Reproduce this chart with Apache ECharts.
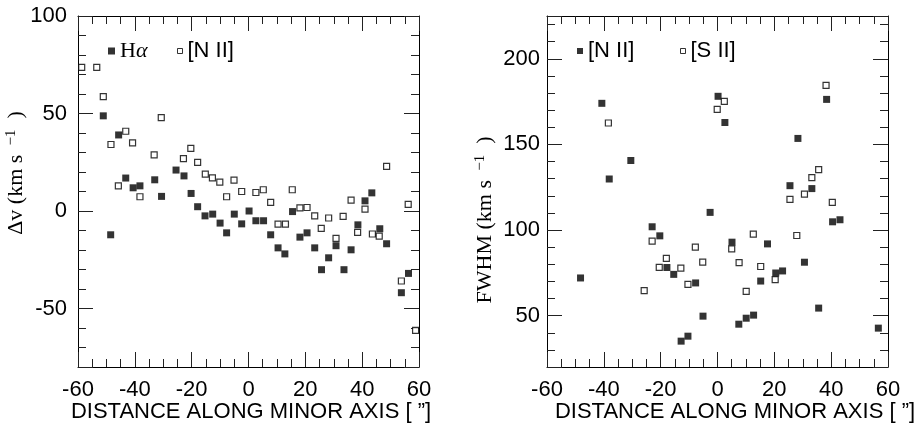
<!DOCTYPE html>
<html><head><meta charset="utf-8">
<script src="https://cdn.jsdelivr.net/npm/echarts@6/dist/echarts.min.js"></script>
<style>html,body{margin:0;padding:0;background:#fff}#c{width:917px;height:429px}</style>
</head><body><div id="c"></div>
<script>
// ---- Left panel: velocity offset (km/s) vs distance along minor axis (arcsec)
const haPoints = [
  [-51.1, 48.8], [-48.5, -12.2], [-45.7, 39.0], [-43.2, 16.9], [-40.6, 11.9], [-38.2, 12.9],
  [-33.0, 16.0], [-30.6, 7.5], [-25.5, 21.0], [-22.7, 18.0], [-20.2, 9.0], [-17.9, 2.2],
  [-15.3, -2.5], [-12.6, -1.6], [-10.0, -6.2], [-7.7, -11.2], [-5.0, -1.6], [-2.4, -6.6],
  [0.2, 0.0], [2.6, -5.0], [5.3, -5.0], [7.8, -12.2], [10.4, -18.9], [12.8, -22.0],
  [15.5, -0.3], [18.1, -13.4], [20.6, -11.2], [23.3, -18.9], [25.7, -30.1], [28.2, -24.0],
  [30.8, -17.8], [33.6, -30.1], [36.1, -19.9], [38.5, -7.1], [41.0, 5.2], [43.4, 9.3],
  [46.2, -9.1], [48.6, -16.8], [53.8, -41.9], [56.3, -32.0]
];
const n2VelPoints = [
  [-58.7, 73.7], [-53.4, 73.7], [-51.1, 58.7], [-48.4, 34.1], [-45.8, 12.9], [-43.2, 40.9],
  [-40.8, 34.9], [-38.2, 7.3], [-33.2, 28.8], [-30.7, 47.9], [-22.9, 26.9], [-20.3, 32.1],
  [-17.9, 24.9], [-15.2, 18.9], [-12.7, 17.0], [-10.1, 14.8], [-7.7, 7.3], [-5.1, 15.8],
  [-2.4, 10.0], [2.6, 9.5], [5.2, 10.9], [7.8, 4.4], [10.4, -6.7], [13.0, -6.7],
  [15.4, 10.9], [18.1, 1.6], [20.6, 1.8], [23.3, -2.5], [25.6, -8.9], [28.2, -3.6],
  [30.8, -14.0], [33.3, -2.8], [36.1, 5.6], [38.4, -11.0], [41.0, 1.0], [43.6, -11.8],
  [46.0, -12.9], [48.6, 22.9], [53.8, -35.9], [56.2, 3.4], [58.8, -61.2]
];
// ---- Right panel: FWHM (km/s) vs distance
const n2FwhmPoints = [
  [-48.2, 72.0], [-40.7, 174.0], [-38.1, 129.8], [-30.5, 140.6], [-23.0, 101.9], [-20.3, 96.6],
  [-17.8, 78.1], [-15.4, 74.1], [-12.8, 35.1], [-10.4, 38.0], [-7.7, 69.1], [-5.1, 49.7],
  [-2.6, 110.3], [0.2, 178.1], [2.6, 162.8], [5.1, 92.9], [7.5, 45.0], [10.1, 48.5],
  [12.7, 50.3], [15.2, 70.2], [17.6, 91.9], [20.5, 74.9], [22.9, 76.1], [25.5, 125.9],
  [28.3, 153.5], [30.6, 81.2], [33.2, 124.2], [35.6, 54.4], [38.4, 176.3], [40.5, 104.8],
  [43.1, 106.0], [56.6, 42.7]
];
const s2FwhmPoints = [
  [-38.4, 162.5], [-25.8, 64.6], [-23.0, 93.5], [-20.5, 78.2], [-18.0, 83.4], [-12.9, 77.8],
  [-10.4, 68.3], [-7.8, 90.0], [-5.2, 81.2], [-0.1, 170.5], [2.4, 175.1], [5.0, 89.0],
  [7.6, 81.0], [10.1, 64.2], [12.6, 97.6], [15.2, 78.7], [20.3, 71.0], [25.5, 117.9],
  [27.9, 96.8], [30.6, 121.0], [33.2, 130.6], [35.6, 135.3], [38.2, 184.5], [40.4, 116.2]
];
// ---- Tick labels
const xTickLabels = [-60, -40, -20, 0, 20, 40, 60];
const dvTickLabels = [-50, 0, 50, 100];
const fwhmTickLabels = [50, 100, 150, 200];

const SANS = 'Liberation Sans, Arial, sans-serif';
const SERIF = 'Liberation Serif, Times New Roman, serif';
const INK = '#000';

function xAx(grid, pos, labels) {
  return {
    type: 'value', gridIndex: grid, position: pos, min: -60, max: 60, interval: 20,
    axisLine: { show: true, onZero: false, lineStyle: { color: INK, width: 1 } },
    axisTick: { show: true, inside: true, length: 15, lineStyle: { color: '#222', width: 1 } },
    minorTick: { show: true, splitNumber: 4, length: 8, lineStyle: { color: '#222', width: 1 } },
    splitLine: { show: false }, minorSplitLine: { show: false },
    axisLabel: labels ? {
      show: true, margin: 12, color: INK, fontFamily: SANS, fontSize: 22,
      formatter: v => xTickLabels.includes(v) ? String(v) : ''
    } : { show: false }
  };
}
function yAx(grid, pos, min, max, tickLabels, labels, margin) {
  return {
    type: 'value', gridIndex: grid, position: pos, min: min, max: max, splitNumber: 4,
    axisLine: { show: true, onZero: false, lineStyle: { color: INK, width: 1 } },
    axisTick: { show: true, inside: true, length: 15, lineStyle: { color: '#222', width: 1 } },
    minorTick: { show: true, splitNumber: 5, length: 8, lineStyle: { color: '#222', width: 1 } },
    splitLine: { show: false }, minorSplitLine: { show: false },
    axisLabel: labels ? {
      show: true, margin: margin, color: INK, fontFamily: SANS, fontSize: 22,
      showMinLabel: true, showMaxLabel: true,
      formatter: v => tickLabels.includes(v) ? String(v) : ''
    } : { show: false }
  };
}

const filled = { color: '#000' };
const hollow = { color: '#fff', borderColor: '#000', borderWidth: 1.2 };

const option = {
  animation: false,
  backgroundColor: '#fff',
  grid: [
    { left: 78, top: 16, width: 341, height: 351 },
    { left: 547, top: 16, width: 341, height: 351 }
  ],
  xAxis: [xAx(0, 'bottom', true), xAx(0, 'top', false), xAx(1, 'bottom', true), xAx(1, 'top', false)],
  yAxis: [
    yAx(0, 'left', -80, 100, dvTickLabels, true, 11),
    yAx(0, 'right', -80, 100, dvTickLabels, false, 0),
    yAx(1, 'left', 20, 225, fwhmTickLabels, true, 7),
    yAx(1, 'right', 20, 225, fwhmTickLabels, false, 0)
  ],
  legend: [
    { left: 108, top: 40, padding: 0, itemWidth: 7, itemHeight: 7, selectedMode: false,
      data: [{ name: 'Hα', icon: 'rect', itemStyle: filled }],
      formatter: () => '{h|H}{a|α}',
      textStyle: { rich: {
        h: { fontFamily: SERIF, fontSize: 22, color: INK },
        a: { fontFamily: SERIF, fontSize: 22, fontStyle: 'italic', color: INK } } } },
    { left: 177, top: 40, padding: 0, itemWidth: 5, itemHeight: 5, selectedMode: false,
      data: [{ name: '[N II]', icon: 'rect', itemStyle: { color: '#fff', borderColor: '#000', borderWidth: 1 } }],
      textStyle: { fontFamily: SANS, fontSize: 22, color: INK } },
    { left: 577, top: 40, padding: 0, itemWidth: 6, itemHeight: 6, selectedMode: false,
      data: [{ name: '[N II] FWHM', icon: 'rect', itemStyle: filled }],
      formatter: () => '[N II]',
      textStyle: { fontFamily: SANS, fontSize: 22, color: INK } },
    { left: 680, top: 40, padding: 0, itemWidth: 5, itemHeight: 5, selectedMode: false,
      data: [{ name: '[S II]', icon: 'rect', itemStyle: { color: '#fff', borderColor: '#000', borderWidth: 1 } }],
      textStyle: { fontFamily: SANS, fontSize: 22, color: INK } }
  ],
  series: [
    { name: 'Hα', type: 'scatter', xAxisIndex: 0, yAxisIndex: 0, symbol: 'rect', symbolSize: 7,
      itemStyle: filled, data: haPoints },
    { name: '[N II]', type: 'scatter', xAxisIndex: 0, yAxisIndex: 0, symbol: 'rect', symbolSize: 6,
      itemStyle: hollow, data: n2VelPoints },
    { name: '[N II] FWHM', type: 'scatter', xAxisIndex: 2, yAxisIndex: 2, symbol: 'rect', symbolSize: 7,
      itemStyle: filled, data: n2FwhmPoints },
    { name: '[S II]', type: 'scatter', xAxisIndex: 2, yAxisIndex: 2, symbol: 'rect', symbolSize: 6,
      itemStyle: hollow, data: s2FwhmPoints }
  ],
  graphic: [
    { type: 'text', x: 251, y: 412, style: { text: 'DISTANCE ALONG MINOR AXIS [ ”]',
      fontFamily: SANS, fontSize: 22, fill: INK, align: 'center', verticalAlign: 'middle' } },
    { type: 'text', x: 735, y: 412, style: { text: 'DISTANCE ALONG MINOR AXIS [ ”]',
      fontFamily: SANS, fontSize: 22, fill: INK, align: 'center', verticalAlign: 'middle' } },
    { type: 'text', x: 16, y: 173, rotation: Math.PI / 2, style: {
      text: '{m|Δv (km s }{s| −1}{m|  )}', align: 'center', verticalAlign: 'middle',
      rich: { m: { fontFamily: SERIF, fontSize: 22, fill: INK, lineHeight: 24 },
              s: { fontFamily: SERIF, fontSize: 15, fill: INK, verticalAlign: 'top', lineHeight: 24 } } } },
    { type: 'text', x: 485, y: 220, rotation: Math.PI / 2, style: {
      text: '{m|FWHM (km s }{s| −1}{m|  )}', align: 'center', verticalAlign: 'middle',
      rich: { m: { fontFamily: SERIF, fontSize: 22, fill: INK, lineHeight: 24 },
              s: { fontFamily: SERIF, fontSize: 15, fill: INK, verticalAlign: 'top', lineHeight: 24 } } } }
  ]
};
const chart = echarts.init(document.getElementById('c'), null, { renderer: 'canvas' });
chart.setOption(option);
</script>
</body></html>
